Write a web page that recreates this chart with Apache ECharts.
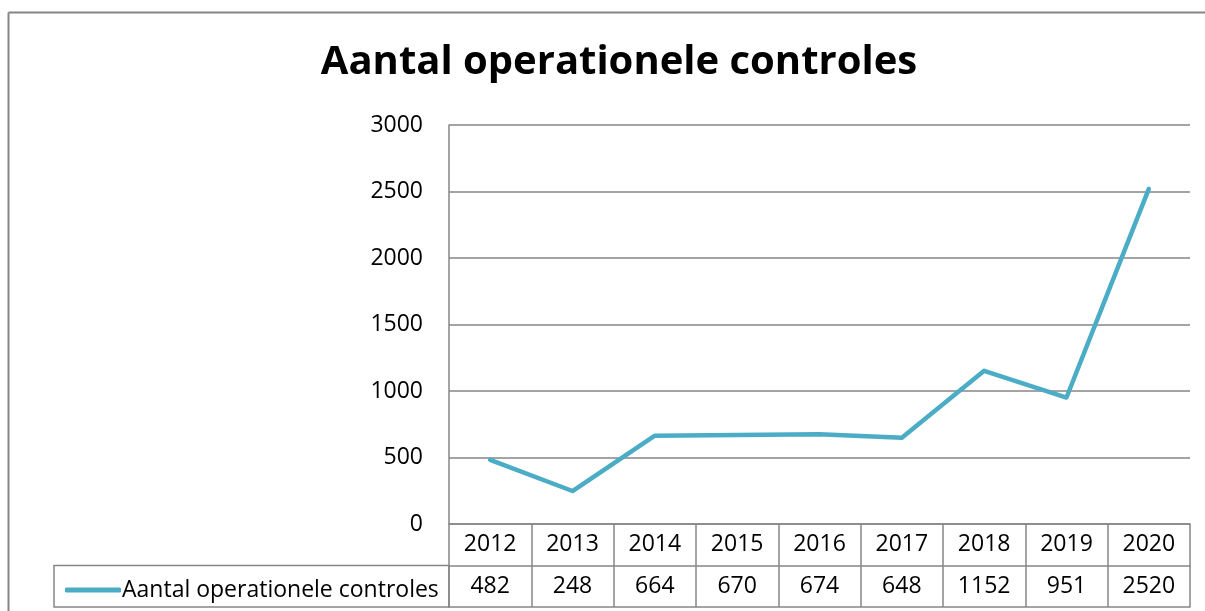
<!DOCTYPE html>
<html>
<head>
<meta charset="utf-8">
<script src="https://cdn.jsdelivr.net/npm/echarts@6/dist/echarts.min.js"></script>
<style>
  html, body { margin: 0; padding: 0; background: #fff; }
  #chart { width: 1205px; height: 611px; }
</style>
</head>
<body>
<div id="chart"></div>
<script>
const titleText = 'Aantal operationele controles';
const seriesName = 'Aantal operationele controles';
const years = ['2012', '2013', '2014', '2015', '2016', '2017', '2018', '2019', '2020'];
const controles = [482, 248, 664, 670, 674, 648, 1152, 951, 2520];

const gray = '#868686';
const lineColor = '#4BACC6';
const font = 'Open Sans';

// plot area in pixels
const plotLeft = 449, plotRight = 1190, plotTop = 125, plotBottom = 524;
const rowH = 41.5;

const myChart = echarts.init(document.getElementById('chart'));

const option = {
  animation: false,
  title: {
    text: titleText,
    left: 614,
    top: 38,
    textAlign: 'center',
    textStyle: { fontFamily: font, fontWeight: 'bold', fontSize: 40, color: '#000' }
  },
  legend: {
    data: [seriesName],
    left: 60,
    top: plotBottom + rowH + 8,
    icon: 'roundRect',
    itemWidth: 56,
    itemHeight: 5,
    itemGap: 0,
    textStyle: { fontFamily: font, fontSize: 23, color: '#000', padding: [0, 0, 0, -4] }
  },
  grid: {
    left: plotLeft,
    right: 1205 - plotRight,
    top: plotTop,
    bottom: 611 - plotBottom,
    containLabel: false
  },
  xAxis: [
    {
      type: 'category',
      data: years,
      boundaryGap: true,
      axisLine: { lineStyle: { color: gray, width: 1.5 } },
      axisTick: { show: true, length: rowH * 2, lineStyle: { color: gray, width: 1.5 } },
      axisLabel: { margin: 9, fontFamily: font, fontSize: 23, color: '#000' }
    },
    {
      type: 'category',
      data: controles.map(String),
      position: 'bottom',
      offset: rowH,
      boundaryGap: true,
      axisLine: { lineStyle: { color: gray, width: 1.5 } },
      axisTick: { show: false },
      axisLabel: { margin: 9, fontFamily: font, fontSize: 23, color: '#000' }
    },
    {
      type: 'category',
      data: years,
      position: 'bottom',
      offset: rowH * 2,
      boundaryGap: true,
      axisLine: { lineStyle: { color: gray, width: 1.5 } },
      axisTick: { show: false },
      axisLabel: { show: false }
    }
  ],
  yAxis: {
    type: 'value',
    min: 0,
    max: 3000,
    interval: 500,
    axisLine: { show: true, lineStyle: { color: gray, width: 1.5 } },
    axisTick: { show: false },
    splitLine: { lineStyle: { color: gray, width: 1.5 } },
    axisLabel: {
      margin: 26,
      fontFamily: font,
      fontSize: 23,
      color: '#000',
      formatter: (v) => String(v)
    }
  },
  series: [
    {
      name: seriesName,
      type: 'line',
      data: controles,
      xAxisIndex: 0,
      showSymbol: false,
      color: lineColor,
      lineStyle: { color: lineColor, width: 4.5, cap: 'round', join: 'round' }
    }
  ],
  graphic: [
    // outer chart frame
    { type: 'line', shape: { x1: 8.5, y1: 12.5, x2: 1205, y2: 12.5 }, style: { stroke: gray, lineWidth: 2 } },
    { type: 'line', shape: { x1: 8.5, y1: 12.5, x2: 8.5, y2: 611 }, style: { stroke: gray, lineWidth: 2 } },
    // legend cell of the data table
    {
      type: 'rect',
      shape: { x: 54, y: plotBottom + rowH, width: plotLeft - 54, height: rowH },
      style: { fill: null, stroke: gray, lineWidth: 1.5 },
      z: 10
    }
  ]
};

myChart.setOption(option);
</script>
</body>
</html>
